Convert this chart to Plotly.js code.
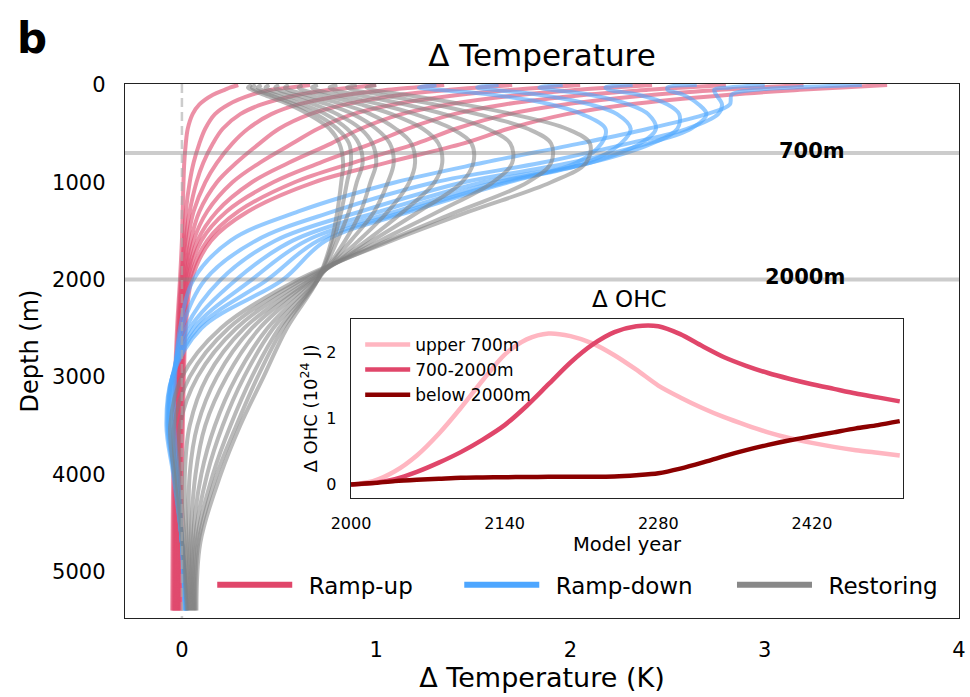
<!DOCTYPE html>
<html>
<head>
<meta charset="utf-8">
<script src="https://cdn.plot.ly/plotly-3.0.1.min.js"></script>
<style>html,body{margin:0;padding:0;background:#fff;}#chart{width:970px;height:697px;}</style>
</head>
<body>
<div id="chart"></div>
<script>
// ---------------- DATA ----------------
// depth levels (m) of the temperature-anomaly profiles
const depthLevels = [0, 25, 50, 100, 200, 300, 450, 600, 800, 1000, 1300, 1600, 2000, 2500, 3000, 3500, 4000, 4700, 5400];

// Ramp-up profiles (ΔT, K)
const rampUpProfiles = [
  [0.29, 0.25, 0.22, 0.16, 0.09, 0.055, 0.03, 0.02, 0.012, 0.008, 0.004, 0.0, -0.01, -0.025, -0.035, -0.04, -0.045, -0.048, -0.05],
  [0.66, 0.56, 0.46, 0.36, 0.24, 0.17, 0.12, 0.09, 0.06, 0.04, 0.02, 0.01, -0.005, -0.02, -0.03, -0.035, -0.04, -0.043, -0.045],
  [1.0, 0.88, 0.76, 0.6, 0.41, 0.3, 0.21, 0.16, 0.11, 0.075, 0.04, 0.018, 0.0, -0.015, -0.025, -0.03, -0.035, -0.038, -0.04],
  [1.35, 1.2, 1.06, 0.85, 0.6, 0.46, 0.34, 0.26, 0.18, 0.12, 0.06, 0.03, 0.008, -0.01, -0.02, -0.025, -0.03, -0.033, -0.035],
  [1.7, 1.53, 1.38, 1.13, 0.84, 0.66, 0.5, 0.4, 0.28, 0.18, 0.09, 0.045, 0.012, -0.005, -0.015, -0.02, -0.025, -0.028, -0.03],
  [2.05, 1.87, 1.7, 1.43, 1.09, 0.88, 0.7, 0.57, 0.4, 0.26, 0.13, 0.06, 0.018, 0.0, -0.01, -0.015, -0.02, -0.022, -0.025],
  [2.42, 2.22, 2.04, 1.75, 1.37, 1.13, 0.92, 0.77, 0.55, 0.36, 0.18, 0.08, 0.025, 0.005, -0.005, -0.01, -0.015, -0.018, -0.02],
  [2.8, 2.59, 2.4, 2.08, 1.66, 1.4, 1.16, 0.98, 0.71, 0.47, 0.23, 0.1, 0.03, 0.01, 0.0, -0.005, -0.01, -0.012, -0.015],
  [3.2, 2.98, 2.77, 2.43, 1.97, 1.68, 1.41, 1.21, 0.88, 0.58, 0.29, 0.13, 0.04, 0.015, 0.005, 0.0, -0.005, -0.008, -0.01],
  [3.63, 3.4, 3.18, 2.82, 2.3, 1.98, 1.68, 1.45, 1.05, 0.68, 0.34, 0.15, 0.05, 0.02, 0.01, 0.005, 0.0, -0.003, -0.005]
];

// Ramp-down profiles (ΔT, K)
const rampDownProfiles = [
  [3.5, 3.15, 2.95, 2.83, 2.82, 2.7, 2.4, 2.05, 1.55, 1.1, 0.6, 0.25, 0.06, -0.01, -0.035, -0.04, -0.02, 0.0, 0.015],
  [3.0, 2.82, 2.74, 2.75, 2.78, 2.76, 2.6, 2.3, 1.85, 1.3, 0.78, 0.38, 0.12, 0.0, -0.04, -0.05, -0.025, 0.0, 0.015],
  [2.65, 2.5, 2.5, 2.58, 2.66, 2.7, 2.62, 2.4, 2.0, 1.45, 0.92, 0.48, 0.2, 0.02, -0.045, -0.06, -0.03, 0.0, 0.018],
  [2.32, 2.18, 2.2, 2.35, 2.5, 2.56, 2.55, 2.42, 2.1, 1.55, 1.02, 0.57, 0.28, 0.04, -0.05, -0.065, -0.035, 0.0, 0.02],
  [1.96, 1.84, 1.9, 2.1, 2.3, 2.4, 2.44, 2.36, 2.1, 1.62, 1.1, 0.64, 0.36, 0.06, -0.05, -0.07, -0.04, 0.0, 0.022],
  [1.63, 1.52, 1.6, 1.84, 2.1, 2.24, 2.31, 2.26, 2.08, 1.66, 1.15, 0.7, 0.44, 0.08, -0.05, -0.075, -0.04, 0.0, 0.025],
  [1.31, 1.22, 1.32, 1.6, 1.9, 2.06, 2.18, 2.16, 2.03, 1.68, 1.18, 0.74, 0.52, 0.1, -0.05, -0.08, -0.045, 0.0, 0.025]
];

// Restoring profiles (ΔT, K)
const restoringProfiles = [
  [1.0, 0.95, 0.98, 1.15, 1.45, 1.7, 1.98, 2.1, 2.08, 1.9, 1.48, 1.08, 0.6, 0.2, 0.0, -0.06, -0.04, 0.0, 0.025],
  [0.9, 0.85, 0.88, 1.02, 1.3, 1.52, 1.78, 1.9, 1.9, 1.78, 1.42, 1.06, 0.62, 0.24, 0.04, -0.04, -0.03, 0.005, 0.03],
  [0.8, 0.76, 0.78, 0.9, 1.15, 1.35, 1.57, 1.69, 1.7, 1.6, 1.32, 1.02, 0.64, 0.28, 0.08, -0.01, -0.01, 0.015, 0.035],
  [0.7, 0.67, 0.69, 0.8, 1.02, 1.2, 1.39, 1.49, 1.5, 1.44, 1.22, 0.98, 0.66, 0.32, 0.13, 0.04, 0.015, 0.025, 0.04],
  [0.62, 0.6, 0.62, 0.72, 0.92, 1.08, 1.24, 1.32, 1.34, 1.3, 1.14, 0.95, 0.67, 0.36, 0.18, 0.08, 0.04, 0.035, 0.045],
  [0.55, 0.53, 0.55, 0.64, 0.83, 0.97, 1.1, 1.18, 1.2, 1.17, 1.06, 0.91, 0.68, 0.4, 0.23, 0.12, 0.07, 0.045, 0.05],
  [0.5, 0.48, 0.5, 0.58, 0.75, 0.88, 1.0, 1.07, 1.09, 1.06, 0.99, 0.87, 0.69, 0.44, 0.28, 0.17, 0.1, 0.055, 0.055],
  [0.45, 0.43, 0.45, 0.53, 0.68, 0.8, 0.92, 0.98, 1.0, 0.97, 0.92, 0.84, 0.7, 0.47, 0.32, 0.21, 0.13, 0.065, 0.06],
  [0.41, 0.39, 0.41, 0.48, 0.62, 0.74, 0.85, 0.91, 0.93, 0.9, 0.86, 0.8, 0.7, 0.5, 0.36, 0.25, 0.16, 0.075, 0.065],
  [0.38, 0.36, 0.38, 0.45, 0.58, 0.69, 0.8, 0.86, 0.87, 0.85, 0.82, 0.78, 0.7, 0.52, 0.39, 0.28, 0.18, 0.085, 0.07],
  [0.36, 0.34, 0.36, 0.42, 0.55, 0.65, 0.76, 0.81, 0.83, 0.82, 0.8, 0.77, 0.7, 0.54, 0.42, 0.3, 0.2, 0.095, 0.075]
];

// Inset: ocean heat content change (10^24 J)
const ohcYears = [2000, 2020, 2040, 2060, 2080, 2100, 2120, 2140, 2160, 2180, 2200, 2220, 2240, 2260, 2280, 2300, 2320, 2340, 2360, 2380, 2400, 2420, 2440, 2460, 2480, 2500];
const ohcUpper700 = [0, 0.05, 0.2, 0.44, 0.77, 1.16, 1.58, 1.97, 2.2, 2.29, 2.25, 2.14, 1.96, 1.74, 1.5, 1.32, 1.16, 1.02, 0.9, 0.79, 0.7, 0.63, 0.57, 0.52, 0.48, 0.44];
const ohc700to2000 = [0, 0.02, 0.08, 0.19, 0.33, 0.49, 0.68, 0.9, 1.19, 1.52, 1.85, 2.12, 2.31, 2.4, 2.4, 2.28, 2.1, 1.93, 1.8, 1.69, 1.6, 1.52, 1.45, 1.38, 1.32, 1.26];
const ohcBelow2000 = [0, 0.02, 0.05, 0.07, 0.085, 0.1, 0.105, 0.11, 0.113, 0.115, 0.115, 0.115, 0.12, 0.14, 0.17, 0.24, 0.33, 0.43, 0.52, 0.6, 0.67, 0.73, 0.79, 0.85, 0.9, 0.96];

const seriesNames = ['Ramp-up', 'Ramp-down', 'Restoring'];
const ohcNames = ['upper 700m', '700-2000m', 'below 2000m'];
const refDepths = [700, 2000];
const refYears = [2140, 2280];

// ---------------- STYLE ----------------
const FONT = 'DejaVu Sans, Verdana, sans-serif';
const cRed = 'rgb(224,70,106)', cBlue = 'rgb(77,166,255)', cGray = 'rgb(136,136,136)';
const aRed = 'rgba(224,70,106,0.6)', aBlue = 'rgba(77,166,255,0.6)', aGray = 'rgba(128,128,128,0.55)';
const GAP = '\u2002';

const traces = [];
function addFamily(profiles, color) {
  profiles.forEach(p => traces.push({
    x: p, y: depthLevels, type: 'scatter', mode: 'lines',
    line: {color: color, width: 4, shape: 'spline', smoothing: 1},
    showlegend: false, hoverinfo: 'skip', xaxis: 'x', yaxis: 'y'
  }));
}
addFamily(rampUpProfiles, aRed);
addFamily(rampDownProfiles, aBlue);
addFamily(restoringProfiles, aGray);

// legend entries for the main panel
[[cRed, 'legend'], [cBlue, 'legend3'], [cGray, 'legend4']].forEach((d, i) => traces.push({
  x: [null], y: [null], type: 'scatter', mode: 'lines', name: GAP + seriesNames[i],
  line: {color: d[0], width: 6}, legend: d[1], xaxis: 'x', yaxis: 'y'
}));

// inset curves
const ohcSeries = [ohcUpper700, ohc700to2000, ohcBelow2000];
const ohcColors = ['rgb(255,182,193)', 'rgb(224,70,106)', 'rgb(139,0,0)'];
ohcSeries.forEach((s, i) => traces.push({
  x: ohcYears, y: s, type: 'scatter', mode: 'lines', name: ohcNames[i],
  line: {color: ohcColors[i], width: 4.5, shape: 'spline', smoothing: 0.8},
  xaxis: 'x2', yaxis: 'y2', legend: 'legend2', hoverinfo: 'skip'
}));

const shapes = [];
refDepths.forEach(d => shapes.push({
  type: 'line', xref: 'paper', x0: 0, x1: 1, yref: 'y', y0: d, y1: d,
  line: {color: 'rgba(128,128,128,0.4)', width: 4}, layer: 'above'
}));
shapes.push({
  type: 'line', xref: 'x', x0: 0, x1: 0, yref: 'y', y0: -10, y1: 5478,
  line: {color: 'rgba(170,170,170,0.6)', width: 2.5, dash: '9px,5px'}, layer: 'above'
});
refYears.forEach(yr => shapes.push({
  type: 'line', xref: 'x2', x0: yr, x1: yr, yref: 'y2 domain', y0: 0, y1: 1,
  line: {color: 'rgba(128,128,128,0.45)', width: 2.5}, layer: 'below'
}));
shapes.push({
  type: 'line', xref: 'x2 domain', x0: 0, x1: 1, yref: 'y2', y0: 0, y1: 0,
  line: {color: 'rgba(180,180,180,0.7)', width: 2, dash: '8px,5px'}, layer: 'below'
});

const axisCommon = {
  showgrid: false, zeroline: false, showline: true, mirror: true,
  linecolor: '#222', linewidth: 1.3, ticks: '', color: '#000'
};

const legendCommon = {xanchor: 'left', yanchor: 'middle', orientation: 'h', bgcolor: 'rgba(0,0,0,0)', font: {size: 23}, itemwidth: 75};

const layout = {
  width: 970, height: 697,
  margin: {l: 125, r: 11, t: 84, b: 79},
  paper_bgcolor: '#fff', plot_bgcolor: '#fff',
  font: {family: FONT, color: '#000'},
  title: {text: 'Δ Temperature', font: {size: 31, family: FONT}, x: 0.5, xref: 'paper', xanchor: 'center', y: 0.921, yanchor: 'middle'},
  xaxis: Object.assign({}, axisCommon, {
    range: [-0.293, 4.0], tickvals: [0, 1, 2, 3, 4], ticktext: ['0', '1', '2', '3', '4'],
    tickfont: {size: 21}, ticklabelstandoff: 12,
    title: {text: 'Δ Temperature (K)', font: {size: 27}, standoff: 6}
  }),
  yaxis: Object.assign({}, axisCommon, {
    range: [5478, -10], tickvals: [0, 1000, 2000, 3000, 4000, 5000],
    tickfont: {size: 21}, ticklabelstandoff: 14,
    title: {text: 'Depth (m)', font: {size: 24}, standoff: 6}
  }),
  xaxis2: Object.assign({}, axisCommon, {
    domain: [0.271, 0.9329], anchor: 'y2', range: [2000, 2503],
    tickvals: [2000, 2140, 2280, 2420], tickfont: {size: 16}, ticklabelstandoff: 10,
    title: {text: 'Model year', font: {size: 19.5}, standoff: 4}
  }),
  yaxis2: Object.assign({}, axisCommon, {
    domain: [0.2247, 0.560], anchor: 'x2', range: [-0.206, 2.51],
    tickvals: [0, 1, 2], tickfont: {size: 16}, ticklabelstandoff: 10,
    title: {text: 'Δ OHC (10<sup>24</sup> J)', font: {size: 18}, standoff: 4}
  }),
  shapes: shapes,
  annotations: [
    {text: '<b>b</b>', xref: 'paper', yref: 'paper', x: -0.1115, y: 1.086, xanchor: 'center', yanchor: 'middle', showarrow: false, font: {size: 42, family: FONT}},
    {text: '<b>700m</b>', xref: 'x', yref: 'y', x: 3.424, y: 680, xanchor: 'right', yanchor: 'middle', showarrow: false, font: {size: 21, family: FONT}},
    {text: '<b>2000m</b>', xref: 'x', yref: 'y', x: 3.424, y: 1975, xanchor: 'right', yanchor: 'middle', showarrow: false, font: {size: 21, family: FONT}},
    {text: 'Δ OHC', xref: 'paper', yref: 'paper', x: 0.605, y: 0.598, xanchor: 'center', yanchor: 'middle', showarrow: false, font: {size: 23, family: FONT}}
  ],
  legend: Object.assign({}, legendCommon, {x: 0.1046, y: 0.062}),
  legend3: Object.assign({}, legendCommon, {x: 0.4008, y: 0.062}),
  legend4: Object.assign({}, legendCommon, {x: 0.7278, y: 0.062}),
  legend2: {x: 0.282, y: 0.545, xanchor: 'left', yanchor: 'top', orientation: 'v', bgcolor: 'rgba(0,0,0,0)', font: {size: 17}, itemwidth: 45, tracegroupgap: 0}
};

Plotly.newPlot('chart', traces, layout, {staticPlot: true, displayModeBar: false});
</script>
</body>
</html>
